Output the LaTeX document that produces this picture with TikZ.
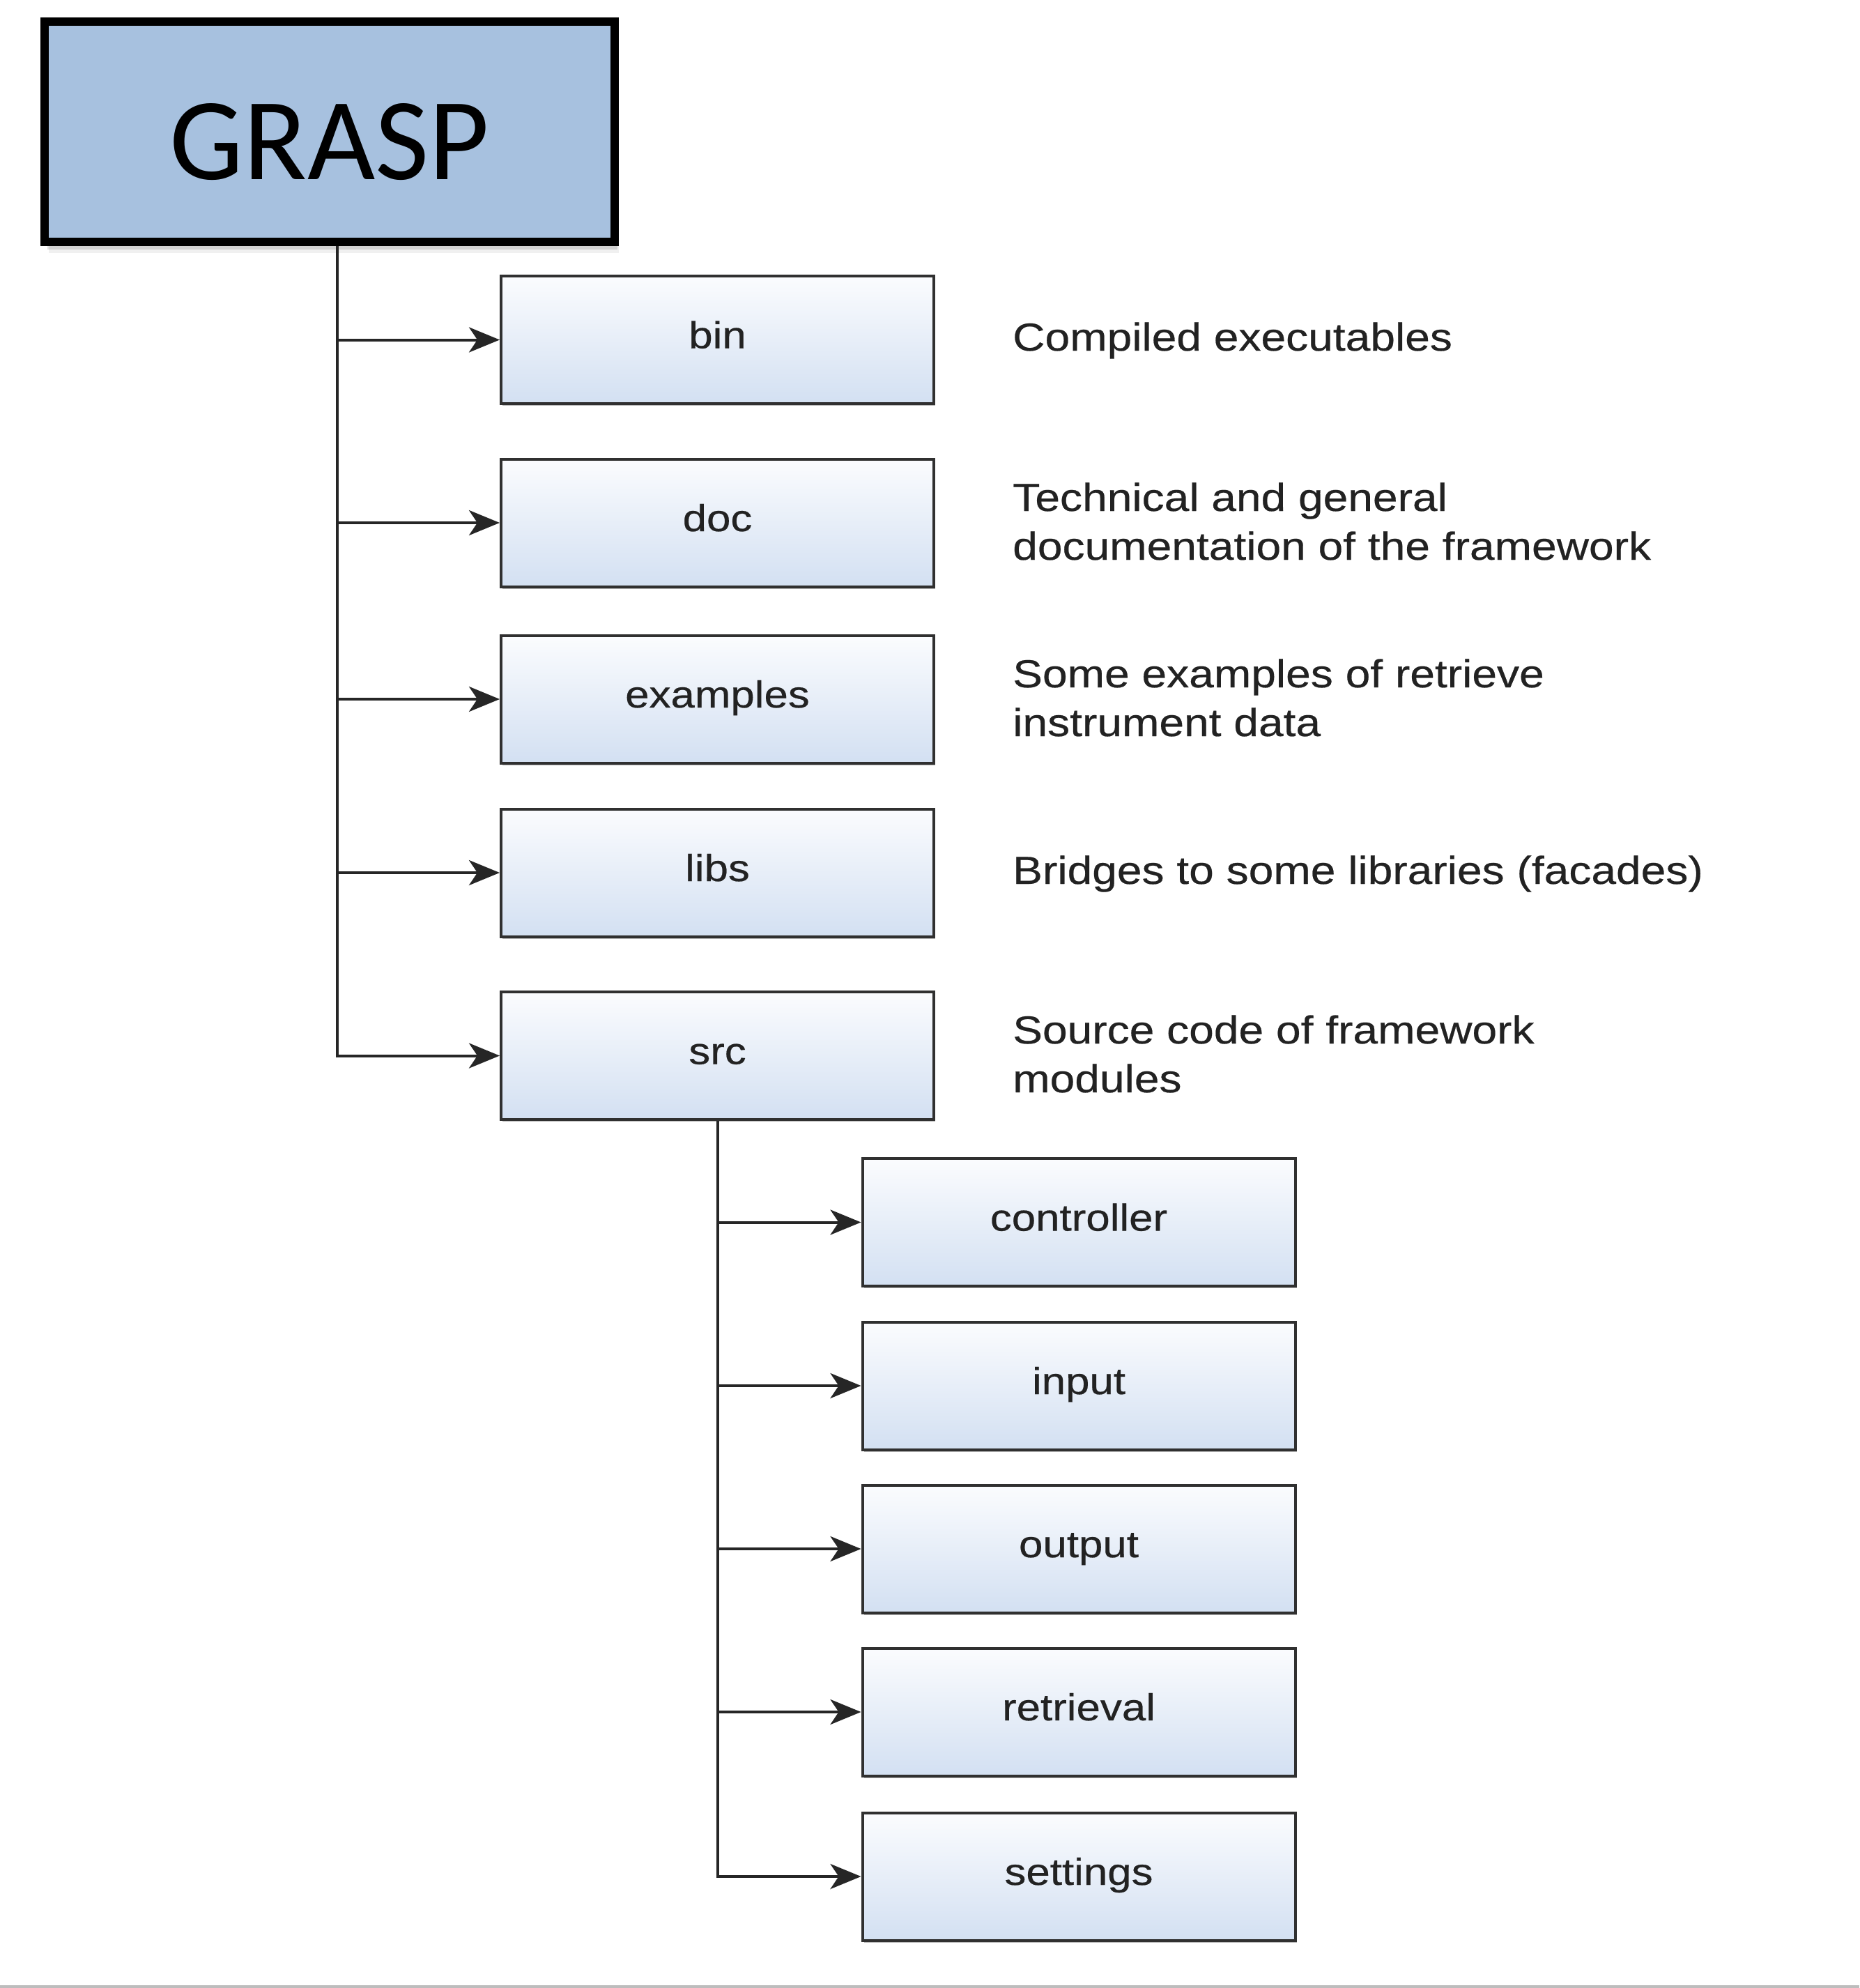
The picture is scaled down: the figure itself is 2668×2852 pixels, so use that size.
\documentclass[tikz,border=0pt]{standalone}
\usepackage{fontspec}
\newfontfamily\labfont[FakeStretch=1.145,FakeBold=0.4]{Liberation Sans}
\newfontfamily\graspfont{Carlito}
\usetikzlibrary{arrows.meta,shadows}
\definecolor{boxtop}{HTML}{FBFCFE}
\definecolor{boxbot}{HTML}{D3E0F2}
\definecolor{graspfill}{HTML}{A7C1DF}
\definecolor{boxline}{HTML}{303030}
\definecolor{conncol}{HTML}{262626}
\definecolor{txtcol}{HTML}{222222}
\definecolor{rulecol}{HTML}{BDBDBD}
\begin{document}
\begin{tikzpicture}[x=1pt,y=-1pt,
  dirbox/.style={draw=boxline, line width=4pt, top color=boxtop, bottom color=boxbot,
    minimum width=621pt, minimum height=183pt, inner sep=0pt,
    text height=24pt, text depth=0pt, text=txtcol,
    font=\labfont\fontsize{54}{60}\selectfont,
    drop shadow={shadow xshift=2pt, shadow yshift=-3pt, opacity=.3, fill=black}},
  rootbox/.style={draw=black, line width=12pt, fill=graspfill,
    minimum width=818pt, minimum height=316pt, inner sep=0pt,
    drop shadow={shadow xshift=2pt, shadow yshift=-6pt, opacity=.25, fill=black},
    drop shadow={shadow xshift=4pt, shadow yshift=-11pt, opacity=.12, fill=black},
    drop shadow={shadow xshift=6pt, shadow yshift=-16pt, opacity=.06, fill=black}},
  desc/.style={anchor=base west, inner sep=0pt, text=txtcol,
    font=\labfont\fontsize{56}{70}\selectfont},
  conn/.style={line width=4pt, draw=conncol,
    -{Stealth[length=44pt, width=36pt, inset=12pt]}}]

\useasboundingbox (0,0) rectangle (2668,2852);
\fill[white] (0,0) rectangle (2668,2852);
\fill[rulecol] (0,2848) rectangle (2668,2852);

% root
\node[rootbox] (grasp) at (473,189) {};
\node[anchor=base, inner sep=0pt, font=\graspfont\fontsize{168}{170}\selectfont] (grasptxt) at (473,258) {GRASP};

% first level
\node[dirbox] (bin) at (1029.5,487.5) {bin};
\node[dirbox] (doc) at (1029.5,750) {doc};
\node[dirbox] (examples) at (1029.5,1003) {examples};
\node[dirbox] (libs) at (1029.5,1252) {libs};
\node[dirbox] (src) at (1029.5,1514.5) {src};

% second level
\node[dirbox] (controller) at (1548,1753.5) {controller};
\node[dirbox] (input) at (1548,1988) {input};
\node[dirbox] (output) at (1548,2222) {output};
\node[dirbox] (retrieval) at (1548,2456) {retrieval};
\node[dirbox] (settings) at (1548,2692) {settings};

% descriptions
\node[desc] (dbin) at (1453,503) {Compiled executables};
\node[desc] (ddoc1) at (1453,733) {Technical and general};
\node[desc] (ddoc2) at (1453,803) {documentation of the framework};
\node[desc] (dex1) at (1453,986) {Some examples of retrieve};
\node[desc] (dex2) at (1453,1056) {instrument data};
\node[desc] (dlibs) at (1453,1268) {Bridges to some libraries (facades)};
\node[desc] (dsrc1) at (1453,1497) {Source code of framework};
\node[desc] (dsrc2) at (1453,1567) {modules};

% connectors, first level
\coordinate (trunk) at (484,0);
\draw[conn] (grasp.south -| trunk) |- (src.west);
\draw[conn] (trunk |- bin.west) -- (bin.west);
\draw[conn] (trunk |- doc.west) -- (doc.west);
\draw[conn] (trunk |- examples.west) -- (examples.west);
\draw[conn] (trunk |- libs.west) -- (libs.west);

% connectors, second level
\draw[conn] (src.south) |- (settings.west);
\draw[conn] (src.south |- controller.west) -- (controller.west);
\draw[conn] (src.south |- input.west) -- (input.west);
\draw[conn] (src.south |- output.west) -- (output.west);
\draw[conn] (src.south |- retrieval.west) -- (retrieval.west);
\end{tikzpicture}
\end{document}
